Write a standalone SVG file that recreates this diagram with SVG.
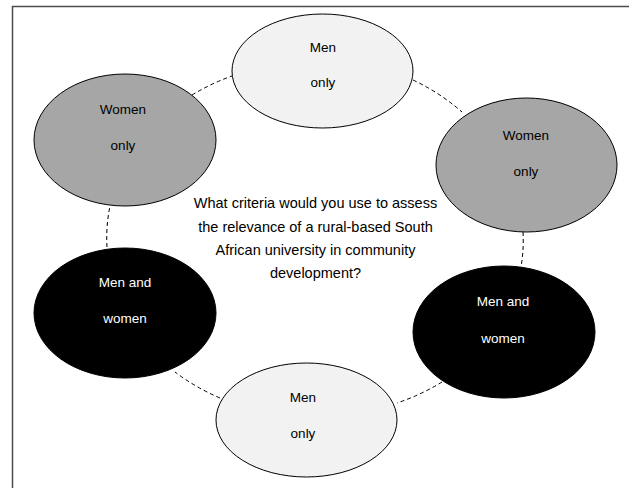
<svg xmlns="http://www.w3.org/2000/svg" width="629" height="488" viewBox="0 0 629 488">
<style>
.frame{fill:none;stroke:#4d4d4d;stroke-width:1.5}
.conn{fill:none;stroke:#000;stroke-width:1;stroke-dasharray:4 3}
.node{stroke:#000;stroke-width:1}
.light{fill:#f2f2f2}
.gray{fill:#a6a6a6}
.dark{fill:#000}
text{font-family:"Liberation Sans",Arial,sans-serif;text-anchor:middle}
.lbl{font-size:13.5px;fill:#000}
.lblw{font-size:13.5px;fill:#fff}
.q{font-size:14.5px;fill:#000}
</style>
<rect width="629" height="488" fill="#fff"/>
<path class="frame" d="M12.5,488 V6.5 H629"/>
<g id="connectors">
<path class="conn" d="M192,95 A208,180 0 0 1 232,76"/>
<path class="conn" d="M413,80 A208,180 0 0 1 462,112"/>
<path class="conn" d="M523,232 A208,180 0 0 1 521,267"/>
<path class="conn" d="M442,382 A208,180 0 0 1 397,403"/>
<path class="conn" d="M220,398 A208,180 0 0 1 175,372"/>
<path class="conn" d="M107,247 A208,180 0 0 1 110,206"/>
</g>
<g id="node-top-men-only">
<ellipse class="node light" cx="322.5" cy="71" rx="90.5" ry="57"/>
<text class="lbl" x="323" y="52">Men</text>
<text class="lbl" x="323" y="87">only</text>
</g>
<g id="node-left-women-only">
<ellipse class="node gray" cx="125" cy="140" rx="91" ry="66"/>
<text class="lbl" x="123" y="114">Women</text>
<text class="lbl" x="123" y="150">only</text>
</g>
<g id="node-right-women-only">
<ellipse class="node gray" cx="526.5" cy="165" rx="90.5" ry="67"/>
<text class="lbl" x="526" y="140">Women</text>
<text class="lbl" x="526" y="176">only</text>
</g>
<g id="node-left-men-and-women">
<ellipse class="node dark" cx="125" cy="313" rx="91" ry="65"/>
<text class="lblw" x="125" y="287">Men and</text>
<text class="lblw" x="125" y="323">women</text>
</g>
<g id="node-right-men-and-women">
<ellipse class="node dark" cx="504" cy="332" rx="91" ry="66"/>
<text class="lblw" x="503" y="306">Men and</text>
<text class="lblw" x="503" y="343">women</text>
</g>
<g id="node-bottom-men-only">
<ellipse class="node light" cx="306.5" cy="420" rx="90.5" ry="57"/>
<text class="lbl" x="303" y="402">Men</text>
<text class="lbl" x="303" y="438">only</text>
</g>
<g id="question">
<text class="q" x="315.5" y="208">What criteria would you use to assess</text>
<text class="q" x="315.5" y="232">the relevance of a rural-based South</text>
<text class="q" x="315.5" y="255">African university in community</text>
<text class="q" x="315.5" y="278">development?</text>
</g>
</svg>
